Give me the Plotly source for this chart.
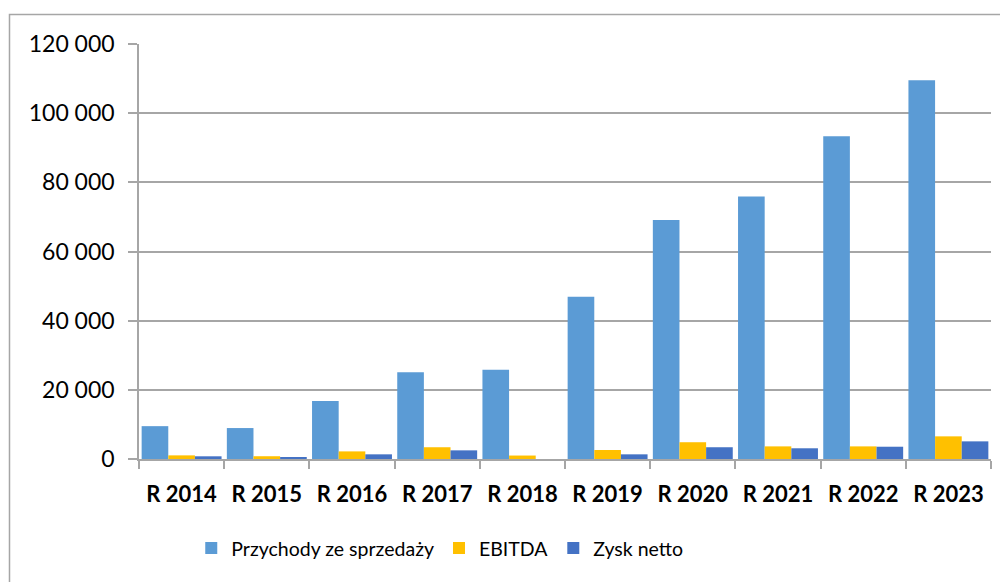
import plotly.graph_objects as go

categories = ["R 2014", "R 2015", "R 2016", "R 2017", "R 2018",
              "R 2019", "R 2020", "R 2021", "R 2022", "R 2023"]
przychody = [9500, 8950, 16750, 25050, 25800, 46900, 69100, 75900, 93300, 109500]
ebitda = [1050, 800, 2200, 3400, 1000, 2600, 4850, 3650, 3650, 6550]
zysk = [780, 400, 1350, 2500, 0, 1350, 3400, 3100, 3550, 5100]

series_names = ["Przychody ze sprzedaży", "EBITDA", "Zysk netto"]
series_colors = ["#5B9BD5", "#FFC000", "#4472C4"]

tick_vals = [0, 20000, 40000, 60000, 80000, 100000, 120000]
tick_text = ["0", "20 000", "40 000", "60 000", "80 000", "100 000", "120 000"]

FONT = "Lato"

fig = go.Figure()
for name, vals, col in zip(series_names, [przychody, ebitda, zysk], series_colors):
    fig.add_trace(go.Bar(x=categories, y=vals, name=name,
                         marker=dict(color=col, line=dict(width=0))))

fig.update_layout(
    width=1008, height=582,
    margin=dict(l=131, r=25, t=36, b=131, autoexpand=False),
    paper_bgcolor="white", plot_bgcolor="white",
    barmode="group", bargap=0.062, bargroupgap=0,
    font=dict(family=FONT, color="black"),
    showlegend=True,
    legend=dict(orientation="h", x=0.353, xanchor="center", y=-0.215, yanchor="middle",
                font=dict(size=19.5, family=FONT, color="black"),
                itemclick=False, traceorder="normal"),
    xaxis=dict(
        showline=True, linecolor="#A6A6A6", linewidth=1.5,
        ticks="outside", tickson="boundaries", ticklen=8, tickcolor="#A6A6A6", tickwidth=1.5,
        tickfont=dict(size=22, family=FONT, color="black", weight="bold"),
        ticklabelstandoff=15, automargin=False,
        showgrid=False,
    ),
    yaxis=dict(
        range=[0, 120000],
        tickvals=tick_vals, ticktext=tick_text,
        showline=True, linecolor="#A6A6A6", linewidth=1.5,
        ticks="outside", ticklen=9, tickcolor="#A6A6A6", tickwidth=1.5,
        tickfont=dict(size=23, family=FONT, color="black"),
        ticklabelstandoff=9, automargin=False,
        showgrid=True, gridcolor="#A6A6A6", gridwidth=1.5,
        zeroline=False,
    ),
    shapes=[dict(type="rect", xref="paper", yref="paper",
                 x0=-0.152, x1=1.06, y0=-0.4, y1=1.0711,
                 line=dict(color="#A6A6A6", width=1.5), fillcolor="rgba(0,0,0,0)",
                 layer="below")],
)

fig.write_html("out.html")
